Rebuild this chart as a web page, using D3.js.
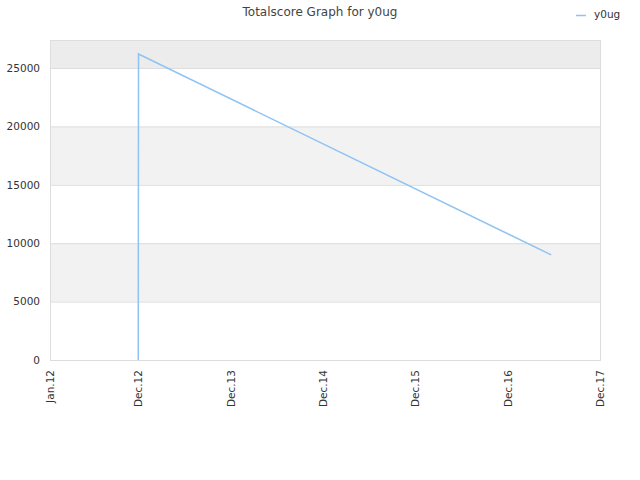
<!DOCTYPE html>
<html><head><meta charset="utf-8">
<script src="https://cdn.jsdelivr.net/npm/d3@7"></script>
<style>body{margin:0;background:#fff;} text{font-family:"DejaVu Sans",sans-serif;}</style>
</head><body>
<svg id="c" width="640" height="480"></svg>
<script>
const seriesName = "y0ug";
const dates = ["2012-12-15", "2012-12-16", "2017-06-05"];
const scores = [0, 26200, 9000];
const yTicks = [0, 5000, 10000, 15000, 20000, 25000];
const xTickDates = ["2012-01-01","2012-12-15","2013-12-15","2014-12-15","2015-12-15","2016-12-15","2017-12-15"];
const xTickLabels = ["Jan.12","Dec.12","Dec.13","Dec.14","Dec.15","Dec.16","Dec.17"];

const svg = d3.select("#c");
const L = 50, R = 600, T = 40, B = 360;
const parse = d3.utcParse("%Y-%m-%d");
const x = d3.scaleUtc().domain([parse("2012-01-01"), parse("2017-12-15")]).range([L, R]);
const y = d3.scaleLinear().domain([0, 27400]).range([B, T]);

// bands
const bandEdges = [0, 5000, 10000, 15000, 20000, 25000, 27400];
for (let i = 0; i < bandEdges.length - 1; i++) {
  let fill = (i % 2 === 1) ? "#f2f2f2" : "#ffffff";
  if (i === bandEdges.length - 2) fill = "#ececec";
  svg.append("rect").attr("x", L).attr("width", R - L)
    .attr("y", y(bandEdges[i + 1])).attr("height", y(bandEdges[i]) - y(bandEdges[i + 1]))
    .attr("fill", fill);
}
// grid
svg.append("g").selectAll("line").data(yTicks).join("line")
  .attr("x1", L).attr("x2", R).attr("y1", d => y(d) + 0.5).attr("y2", d => y(d) + 0.5)
  .attr("stroke", "#dddddd").attr("stroke-width", 1);
svg.append("rect").attr("x", L + 0.5).attr("y", T + 0.5).attr("width", R - L).attr("height", B - T)
  .attr("fill", "none").attr("stroke", "#dddddd");

// y axis
const yAxis = d3.axisLeft(y).tickValues(yTicks).tickSize(0).tickPadding(10).tickFormat(d3.format("d"));
const gy = svg.append("g").attr("transform", `translate(${L},0)`).call(yAxis);
gy.select(".domain").remove();
gy.selectAll("text").attr("fill", "#333").style("font-size", "10.5px").style("font-family", "DejaVu Sans");

// x axis
const xAxis = d3.axisBottom(x).tickValues(xTickDates.map(parse)).tickSize(0)
  .tickFormat((d, i) => xTickLabels[i]);
const gx = svg.append("g").attr("transform", `translate(0,${B})`).call(xAxis);
gx.select(".domain").remove();
gx.selectAll("text").attr("fill", "#333").style("font-size", "10.5px").style("font-family", "DejaVu Sans")
  .attr("text-anchor", "end").attr("transform", "rotate(-90)")
  .attr("x", -10).attr("y", 0).attr("dy", "0.35em");

// line
const data = dates.map((d, i) => ({ d: parse(d), v: scores[i] }));
svg.append("path").datum(data)
  .attr("d", d3.line().x(d => x(d.d)).y(d => y(d.v)))
  .attr("fill", "none").attr("stroke", "#8ec3f3").attr("stroke-width", 1.5);

// title
svg.append("text").attr("x", 320).attr("y", 16).attr("text-anchor", "middle")
  .attr("fill", "#444").style("font-size", "12px").text("Totalscore Graph for " + seriesName);
// legend
svg.append("line").attr("x1", 576).attr("x2", 586).attr("y1", 15.5).attr("y2", 15.5)
  .attr("stroke", "#8ec3f3").attr("stroke-width", 1.5);
svg.append("text").attr("x", 594).attr("y", 18).attr("fill", "#333")
  .style("font-size", "10.5px").text(seriesName);
</script>
</body></html>
